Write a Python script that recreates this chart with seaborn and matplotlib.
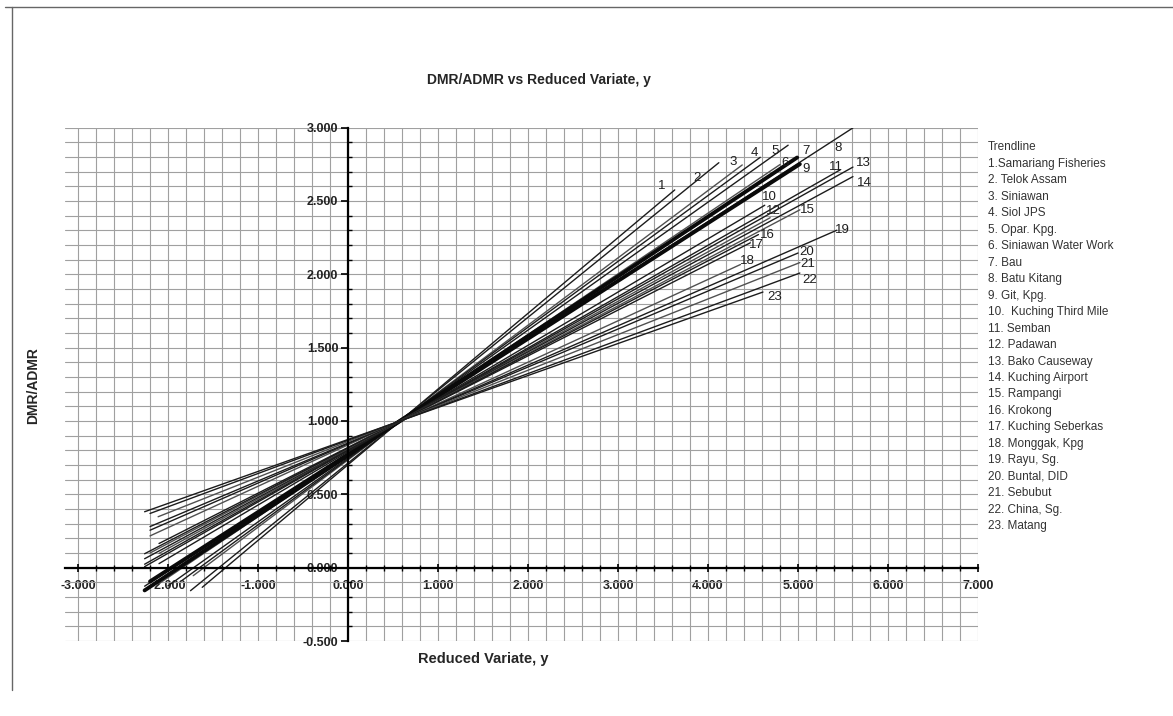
import matplotlib
matplotlib.use("Agg")
import matplotlib.pyplot as plt
import seaborn as sns
import pandas as pd
from matplotlib.lines import Line2D
from matplotlib.ticker import MultipleLocator, FormatStrFormatter

# Trendline data: DMR/ADMR = slope * y + intercept
stations = [
    "1.Samariang Fisheries", "2. Telok Assam", "3. Siniawan", "4. Siol JPS",
    "5. Opar. Kpg.", "6. Siniawan Water Work", "7. Bau", "8. Batu Kitang",
    "9. Git, Kpg.", "10.  Kuching Third Mile", "11. Semban", "12. Padawan",
    "13. Bako Causeway", "14. Kuching Airport", "15. Rampangi", "16. Krokong",
    "17. Kuching Seberkas", "18. Monggak, Kpg", "19. Rayu, Sg.", "20. Buntal, DID",
    "21. Sebubut", "22. China, Sg.", "23. Matang",
]
slopes = [0.516, 0.497, 0.459, 0.449, 0.436, 0.414, 0.407, 0.397, 0.394, 0.363,
          0.350, 0.337, 0.344, 0.331, 0.324, 0.319, 0.312, 0.282, 0.268, 0.259,
          0.243, 0.227, 0.218]
intercepts = [0.702, 0.713, 0.735, 0.741, 0.748, 0.761, 0.765, 0.771, 0.773, 0.790,
              0.798, 0.805, 0.801, 0.809, 0.813, 0.816, 0.820, 0.837, 0.845, 0.850,
              0.860, 0.869, 0.874]
y_from = [-1.62, -1.75, -1.72, -1.85, -2.00, -2.10, -2.26, -2.26, -2.20, -2.10,
          -2.26, -2.10, -2.26, -2.26, -2.20, -2.26, -2.10, -2.20, -2.20, -2.20,
          -2.11, -2.20, -2.26]
y_to = [3.63, 4.12, 4.38, 4.58, 4.89, 4.80, 4.99, 5.61, 5.02, 4.63,
        5.47, 4.69, 5.61, 5.61, 5.02, 4.56, 4.47, 4.36, 5.43, 5.00,
        5.02, 5.02, 4.61]
x_ticks = [-3, -2, -1, 0, 1, 2, 3, 4, 5, 6, 7]
y_ticks = [-0.5, 0.0, 0.5, 1.0, 1.5, 2.0, 2.5, 3.0]

# layout: where each number sits relative to its line end (pixels)
label_offsets = [(-13, 4), (-22, -15), (-9, 3), (-6, 4), (-13, -6), (5, 2), (9, 7),
                 (-15, -20), (6, -5), (5, 8), (-4, 3), (3, 7), (10, 4), (11, -6),
                 (8, 0), (9, 0), (6, -2), (7, 4), (6, 0), (9, 1), (8, -1),
                 (10, -7), (12, -5)]
bold_lines = {7, 9}

rows = []
for name, a, b, x0, x1 in zip(stations, slopes, intercepts, y_from, y_to):
    for x in (x0, x1):
        rows.append({"station": name, "y": x, "ratio": a * x + b})
df = pd.DataFrame(rows)

sns.set_style("whitegrid")
plt.rcParams["font.family"] = ["Liberation Sans", "DejaVu Sans"]

fig = plt.figure(figsize=(11.73, 7.16), dpi=100)
ax = fig.add_axes([0.055, 0.1047, 0.7788, 0.7171])
ax.set_facecolor("white")

for i, name in enumerate(stations):
    num = i + 1
    sub = df[df["station"] == name]
    if num in bold_lines:
        color, lw = "#0a0a0a", 2.8
    else:
        color, lw = ("#1c1c1c" if num % 3 else "#505050"), 1.0
    sns.lineplot(data=sub, x="y", y="ratio", ax=ax, color=color, linewidth=lw,
                 label=name, zorder=3)
    end = sub.iloc[-1]
    ax.annotate(str(num), xy=(end["y"], end["ratio"]), xytext=label_offsets[i],
                textcoords="offset pixels", ha="center", va="center",
                fontsize=9.5, color="#1e1e1e", zorder=4)

ax.set_xlim(-3.15, 7.0)
ax.set_ylim(-0.5, 3.0)

# graph paper grid
ax.xaxis.set_major_locator(MultipleLocator(1.0))
ax.xaxis.set_minor_locator(MultipleLocator(0.2))
ax.yaxis.set_major_locator(MultipleLocator(0.5))
ax.yaxis.set_minor_locator(MultipleLocator(0.1))
ax.grid(which="both", color="#a0a0a0", linewidth=0.8)
ax.set_axisbelow(True)

ax.set_xticks(x_ticks)
ax.set_yticks(y_ticks)
ax.xaxis.set_major_formatter(FormatStrFormatter("%.3f"))
ax.yaxis.set_major_formatter(FormatStrFormatter("%.3f"))

# axes crossing at the origin
ax.spines["left"].set_position(("data", 0))
ax.spines["bottom"].set_position(("data", 0))
for s in ("left", "bottom"):
    ax.spines[s].set_color("black")
    ax.spines[s].set_linewidth(1.6)
    ax.spines[s].set_zorder(5)
ax.spines["top"].set_visible(False)
ax.spines["right"].set_visible(False)

ax.tick_params(axis="x", which="major", direction="inout", length=6, width=1.2,
               color="black", labelsize=9, pad=6, bottom=True)
ax.tick_params(axis="x", which="minor", direction="inout", length=4, width=1.0,
               color="black", bottom=True)
ax.tick_params(axis="y", which="major", direction="out", length=5, width=1.2,
               color="black", labelsize=9, pad=2, left=True)
ax.tick_params(axis="y", which="minor", direction="in", length=3, width=1.0,
               color="black", left=True)
for lab in ax.get_xticklabels() + ax.get_yticklabels():
    lab.set_fontweight("bold")
    lab.set_color("#222222")

ax.set_xlabel("Reduced Variate, y", fontsize=10.5, fontweight="bold")
ax.set_ylabel("DMR/ADMR", fontsize=10, fontweight="bold")
ax.xaxis.set_label_coords(0.458, -0.021)
ax.yaxis.set_label_coords(-0.027, 0.4985)
ax.set_title("DMR/ADMR vs Reduced Variate, y", fontsize=10, fontweight="bold",
             x=0.519, y=1.068)

leg = ax.legend(title="Trendline", loc="upper left", bbox_to_anchor=(1.004, 0.985),
                frameon=False, fontsize=8.5, title_fontsize=8.5, handlelength=0,
                handletextpad=0, labelspacing=0.38, borderpad=0, alignment="left")
for h in leg.legend_handles:
    h.set_visible(False)
for t in leg.get_texts():
    t.set_color("#333333")
leg.get_title().set_color("#333333")

# page frame of the scanned sheet
fig.add_artist(Line2D([0.004, 1.0], [0.990, 0.990], transform=fig.transFigure,
                      color="#666666", linewidth=1.0))
fig.add_artist(Line2D([0.0102, 0.0102], [0.990, 0.036], transform=fig.transFigure,
                      color="#666666", linewidth=1.0))

fig.savefig("out.png", dpi=100)
